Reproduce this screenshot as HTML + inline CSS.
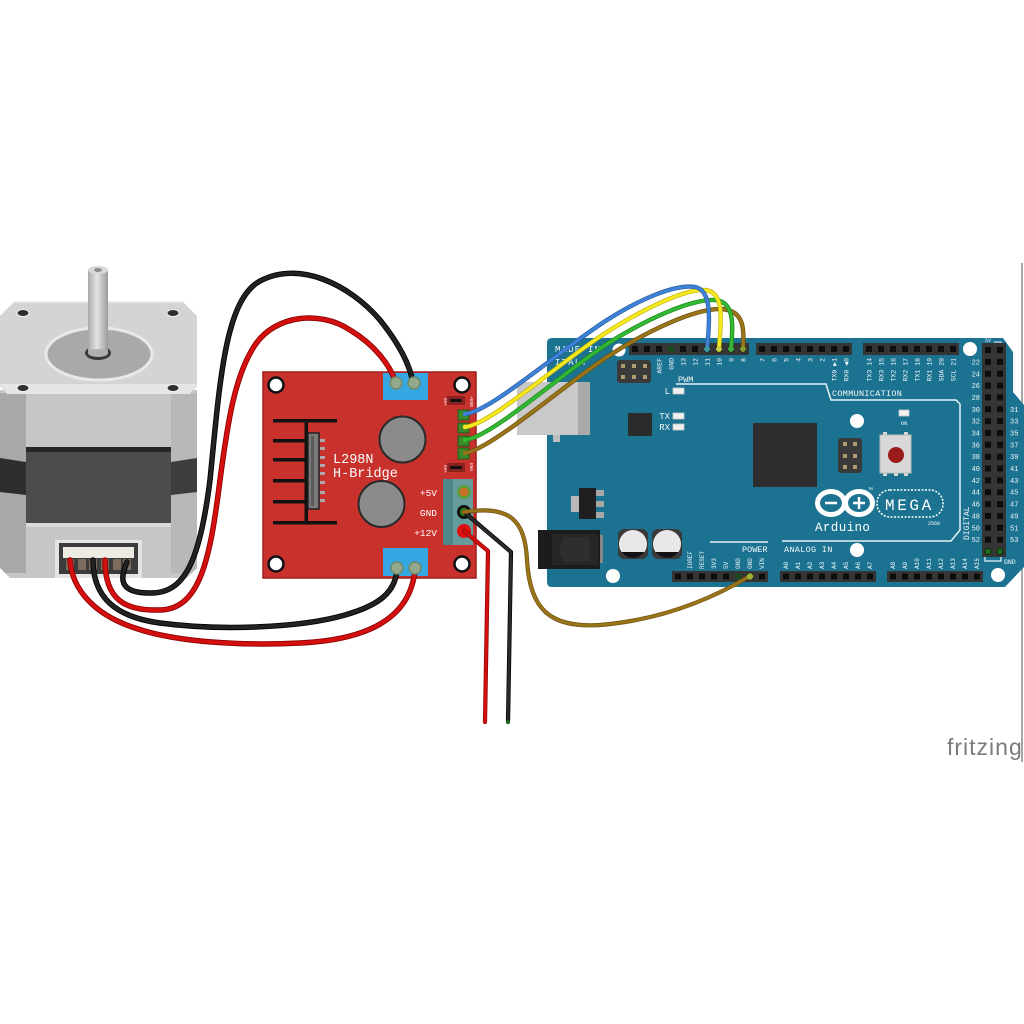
<!DOCTYPE html>
<html><head><meta charset="utf-8"><style>
html,body{margin:0;padding:0;background:#fff;}
svg{display:block;}
text{font-family:"Liberation Mono","DejaVu Sans Mono",monospace;}
</style></head><body>
<svg width="1024" height="1024" viewBox="0 0 1024 1024" xmlns="http://www.w3.org/2000/svg">
<defs>
<linearGradient id="shaft" x1="0" x2="1" y1="0" y2="0">
<stop offset="0" stop-color="#a9a9a9"/><stop offset="0.45" stop-color="#e4e4e4"/><stop offset="1" stop-color="#9a9a9a"/>
</linearGradient>
</defs>
<rect width="1024" height="1024" fill="#fff"/>
<line x1="1022" y1="263" x2="1022" y2="762" stroke="#8a8a8a" stroke-width="1.5"/>
<text x="947" y="755" font-family="Liberation Sans, sans-serif" font-size="23" letter-spacing="1" fill="#7b7b7b" style="font-family:'Liberation Sans',sans-serif">fritzing</text>

<!-- ================= STEPPER MOTOR ================= -->
<g>
<rect x="0" y="390" width="197" height="188" fill="#c6c6c6"/>
<rect x="0" y="393" width="26" height="180" fill="#a8a8a8"/>
<rect x="171" y="393" width="26" height="180" fill="#b8b8b8"/>
<polygon points="0,458 26,462 26,495 0,492" fill="#2e2e2e"/>
<polygon points="171,462 197,458 197,492 171,495" fill="#3d3d3d"/>
<rect x="26" y="447" width="145" height="76" fill="#4c4c4c"/>
<rect x="26" y="447" width="145" height="5" fill="#262626"/>
<rect x="26" y="523" width="145" height="4" fill="#dadada"/>
<polygon points="0,568 0,579 11,579" fill="#fff"/>
<polygon points="197,568 197,579 186,579" fill="#fff"/>
<polygon points="15,301 182,301 197,316 197,386 190,393 7,393 0,386 0,316" fill="#d4d4d4"/>
<polygon points="0,384 197,384 190,394 7,394" fill="#e6e6e6"/>
<line x1="15" y1="302" x2="182" y2="302" stroke="#e9e9e9" stroke-width="2"/>
<ellipse cx="23" cy="313" rx="6" ry="3.5" fill="#2e2e2e" stroke="#eee" stroke-width="1"/>
<ellipse cx="173" cy="313" rx="6" ry="3.5" fill="#2e2e2e" stroke="#eee" stroke-width="1"/>
<ellipse cx="23" cy="388" rx="6" ry="3.5" fill="#2e2e2e" stroke="#eee" stroke-width="1"/>
<ellipse cx="173" cy="388" rx="6" ry="3.5" fill="#2e2e2e" stroke="#eee" stroke-width="1"/>
<ellipse cx="99" cy="354" rx="53" ry="26" fill="#a9a9a9" stroke="#e8e8e8" stroke-width="3"/>
<ellipse cx="98" cy="353" rx="13" ry="7" fill="#3a3a3a"/>
<rect x="88" y="270" width="20" height="83" fill="url(#shaft)"/>
<ellipse cx="98" cy="353" rx="10" ry="4" fill="#b0b0b0"/>
<ellipse cx="98" cy="270" rx="10" ry="4" fill="#d9d9d9"/>
<ellipse cx="98" cy="270" rx="4" ry="2" fill="#8f8f8f"/>
<rect x="55" y="540" width="87" height="38" fill="#e4e4e4"/>
<rect x="59" y="543" width="79" height="31" fill="#3c3c3c"/>
<rect x="63" y="547" width="71" height="11" fill="#eeebe3"/>
<rect x="66" y="559" width="8" height="11" fill="#7d6b5e"/>
<rect x="78" y="559" width="8" height="11" fill="#7d6b5e"/>
<rect x="89" y="559" width="8" height="11" fill="#7d6b5e"/>
<rect x="101" y="559" width="8" height="11" fill="#7d6b5e"/>
<rect x="113" y="559" width="8" height="11" fill="#7d6b5e"/>
<rect x="123" y="559" width="8" height="11" fill="#7d6b5e"/>
</g>

<!-- ================= ARDUINO MEGA ================= -->
<g>
<path d="M552,338 L1003,338 L1013,352 L1013,392 L1024,405 L1024,567 L1005,587 L552,587 Q547,587 547,582 L547,343 Q547,338 552,338 Z" fill="#1b7391"/>
<path d="M676,384 H826 L831,400 H956 L960,404 V530 L951,541 H782" fill="none" stroke="#e8f2f5" stroke-width="1.5"/>
<line x1="710" y1="542" x2="768" y2="542" stroke="#e8f2f5" stroke-width="1.5"/>
<path d="M985,557 V561 H1001 V557" fill="none" stroke="#e8f2f5" stroke-width="1.2"/>
<path d="M994,342 H1001 V344" fill="none" stroke="#e8f2f5" stroke-width="1"/>
<circle cx="619" cy="350" r="6.5" fill="#fff"/>
<circle cx="970" cy="349" r="7" fill="#fff"/>
<circle cx="857" cy="421" r="7" fill="#fff"/>
<circle cx="857" cy="550" r="7" fill="#fff"/>
<circle cx="613" cy="576" r="7" fill="#fff"/>
<circle cx="998" cy="575" r="7" fill="#fff"/>
<g fill="#f2f7f9">
<text x="555" y="352" font-size="9" letter-spacing="1.2">MADE IN</text>
<text x="555" y="365" font-size="9" letter-spacing="1.2">ITALY</text>
<text x="678" y="382" font-size="8.5">PWM</text>
<text x="832" y="396" font-size="8.5" letter-spacing="0.3">COMMUNICATION</text>
<text x="742" y="552" font-size="8.5">POWER</text>
<text x="784" y="552" font-size="8.5" letter-spacing="0.3">ANALOG IN</text>
<text x="670" y="394" font-size="9" text-anchor="end">L</text>
<text x="670" y="419" font-size="9" text-anchor="end">TX</text>
<text x="670" y="430" font-size="9" text-anchor="end">RX</text>
<text x="904" y="425" font-size="5.5" text-anchor="middle">ON</text>
<text x="985" y="342" font-size="5">5V</text>
<text x="1004" y="564" font-size="6.5">GND</text>
<text transform="translate(969,540) rotate(-90)" font-size="8">DIGITAL</text>
</g>
<g fill="#f2f7f9" font-size="7" text-anchor="end">
<text x="980" y="364.5">22</text><text x="980" y="376.3">24</text><text x="980" y="388.1">26</text><text x="980" y="400">28</text>
<text x="980" y="411.8">30</text><text x="980" y="423.6">32</text><text x="980" y="435.5">34</text><text x="980" y="447.3">36</text>
<text x="980" y="459.2">38</text><text x="980" y="471">40</text><text x="980" y="482.9">42</text><text x="980" y="494.7">44</text>
<text x="980" y="506.6">46</text><text x="980" y="518.4">48</text><text x="980" y="530.3">50</text><text x="980" y="542.1">52</text>
</g>
<g fill="#f2f7f9" font-size="7">
<text x="1010" y="411.8">31</text><text x="1010" y="423.6">33</text><text x="1010" y="435.5">35</text><text x="1010" y="447.3">37</text>
<text x="1010" y="459.2">39</text><text x="1010" y="471">41</text><text x="1010" y="482.9">43</text><text x="1010" y="494.7">45</text>
<text x="1010" y="506.6">47</text><text x="1010" y="518.4">49</text><text x="1010" y="530.3">51</text><text x="1010" y="542.1">53</text>
</g>
<g fill="#f2f7f9" font-size="6.5" text-anchor="end">
<text transform="translate(661.5,358) rotate(-90)">AREF</text>
<text transform="translate(673.5,358) rotate(-90)">GND</text>
<text transform="translate(685.5,358) rotate(-90)">13</text>
<text transform="translate(697.5,358) rotate(-90)">12</text>
<text transform="translate(709.5,358) rotate(-90)">11</text>
<text transform="translate(721.5,358) rotate(-90)">10</text>
<text transform="translate(733.5,358) rotate(-90)">9</text>
<text transform="translate(745.5,358) rotate(-90)">8</text>
<text transform="translate(764.5,358) rotate(-90)">7</text>
<text transform="translate(776.5,358) rotate(-90)">6</text>
<text transform="translate(788.5,358) rotate(-90)">5</text>
<text transform="translate(800.5,358) rotate(-90)">4</text>
<text transform="translate(812.5,358) rotate(-90)">3</text>
<text transform="translate(824.5,358) rotate(-90)">2</text>
<text transform="translate(836.5,358) rotate(-90)">TX0 ▶1</text>
<text transform="translate(848.5,358) rotate(-90)">RX0 ◀0</text>
<text transform="translate(871.5,358) rotate(-90)">TX3 14</text>
<text transform="translate(883.5,358) rotate(-90)">RX3 15</text>
<text transform="translate(895.5,358) rotate(-90)">TX2 16</text>
<text transform="translate(907.5,358) rotate(-90)">RX2 17</text>
<text transform="translate(919.5,358) rotate(-90)">TX1 18</text>
<text transform="translate(931.5,358) rotate(-90)">RX1 19</text>
<text transform="translate(943.5,358) rotate(-90)">SDA 20</text>
<text transform="translate(955.5,358) rotate(-90)">SCL 21</text>
</g>
<g fill="#f2f7f9" font-size="6">
<text transform="translate(692.2,569) rotate(-90)">IOREF</text>
<text transform="translate(704.2,569) rotate(-90)">RESET</text>
<text transform="translate(716.2,569) rotate(-90)">3V3</text>
<text transform="translate(728.2,569) rotate(-90)">5V</text>
<text transform="translate(740.2,569) rotate(-90)">GND</text>
<text transform="translate(752.2,569) rotate(-90)">GND</text>
<text transform="translate(764.2,569) rotate(-90)">VIN</text>
<text transform="translate(788.2,569) rotate(-90)">A0</text>
<text transform="translate(800.2,569) rotate(-90)">A1</text>
<text transform="translate(812.2,569) rotate(-90)">A2</text>
<text transform="translate(824.2,569) rotate(-90)">A3</text>
<text transform="translate(836.2,569) rotate(-90)">A4</text>
<text transform="translate(848.2,569) rotate(-90)">A5</text>
<text transform="translate(860.2,569) rotate(-90)">A6</text>
<text transform="translate(872.2,569) rotate(-90)">A7</text>
<text transform="translate(895.2,569) rotate(-90)">A8</text>
<text transform="translate(907.2,569) rotate(-90)">A9</text>
<text transform="translate(919.2,569) rotate(-90)">A10</text>
<text transform="translate(931.2,569) rotate(-90)">A11</text>
<text transform="translate(943.2,569) rotate(-90)">A12</text>
<text transform="translate(955.2,569) rotate(-90)">A13</text>
<text transform="translate(967.2,569) rotate(-90)">A14</text>
<text transform="translate(979.2,569) rotate(-90)">A15</text>
</g>
<g>
<rect x="629" y="343" width="120" height="12" fill="#353535"/>
<rect x="756" y="343" width="96" height="12" fill="#353535"/>
<rect x="863" y="343" width="96" height="12" fill="#353535"/>
<rect x="672" y="571" width="96" height="11" fill="#353535"/>
<rect x="780" y="571" width="96" height="11" fill="#353535"/>
<rect x="887" y="571" width="96" height="11" fill="#353535"/>
<rect x="982" y="343" width="24" height="214" fill="#353535"/>
</g>
<g fill="#0d0d0d">
<rect x="632" y="346" width="6" height="6"/><rect x="644" y="346" width="6" height="6"/><rect x="656" y="346" width="6" height="6"/><rect x="668" y="346" width="6" height="6" fill="#1d4a1d"/><rect x="680" y="346" width="6" height="6"/><rect x="692" y="346" width="6" height="6"/><rect x="704" y="346" width="6" height="6"/><rect x="716" y="346" width="6" height="6"/><rect x="728" y="346" width="6" height="6"/><rect x="740" y="346" width="6" height="6"/>
<rect x="759" y="346" width="6" height="6"/><rect x="771" y="346" width="6" height="6"/><rect x="783" y="346" width="6" height="6"/><rect x="795" y="346" width="6" height="6"/><rect x="807" y="346" width="6" height="6"/><rect x="819" y="346" width="6" height="6"/><rect x="831" y="346" width="6" height="6"/><rect x="843" y="346" width="6" height="6"/>
<rect x="866" y="346" width="6" height="6"/><rect x="878" y="346" width="6" height="6"/><rect x="890" y="346" width="6" height="6"/><rect x="902" y="346" width="6" height="6"/><rect x="914" y="346" width="6" height="6"/><rect x="926" y="346" width="6" height="6"/><rect x="938" y="346" width="6" height="6"/><rect x="950" y="346" width="6" height="6"/>
<rect x="675" y="573.5" width="6" height="6"/><rect x="687" y="573.5" width="6" height="6"/><rect x="699" y="573.5" width="6" height="6"/><rect x="711" y="573.5" width="6" height="6"/><rect x="723" y="573.5" width="6" height="6"/><rect x="735" y="573.5" width="6" height="6" fill="#1d4a1d"/><rect x="747" y="573.5" width="6" height="6"/><rect x="759" y="573.5" width="6" height="6"/>
<rect x="783" y="573.5" width="6" height="6"/><rect x="795" y="573.5" width="6" height="6"/><rect x="807" y="573.5" width="6" height="6"/><rect x="819" y="573.5" width="6" height="6"/><rect x="831" y="573.5" width="6" height="6"/><rect x="843" y="573.5" width="6" height="6"/><rect x="855" y="573.5" width="6" height="6"/><rect x="867" y="573.5" width="6" height="6"/>
<rect x="890" y="573.5" width="6" height="6"/><rect x="902" y="573.5" width="6" height="6"/><rect x="914" y="573.5" width="6" height="6"/><rect x="926" y="573.5" width="6" height="6"/><rect x="938" y="573.5" width="6" height="6"/><rect x="950" y="573.5" width="6" height="6"/><rect x="962" y="573.5" width="6" height="6"/><rect x="974" y="573.5" width="6" height="6"/>
</g>
<g fill="#0d0d0d">
<rect x="985" y="347" width="6" height="6"/><rect x="997" y="347" width="6" height="6"/>
<rect x="985" y="358.9" width="6" height="6"/><rect x="997" y="358.9" width="6" height="6"/>
<rect x="985" y="370.7" width="6" height="6"/><rect x="997" y="370.7" width="6" height="6"/>
<rect x="985" y="382.6" width="6" height="6"/><rect x="997" y="382.6" width="6" height="6"/>
<rect x="985" y="394.4" width="6" height="6"/><rect x="997" y="394.4" width="6" height="6"/>
<rect x="985" y="406.3" width="6" height="6"/><rect x="997" y="406.3" width="6" height="6"/>
<rect x="985" y="418.1" width="6" height="6"/><rect x="997" y="418.1" width="6" height="6"/>
<rect x="985" y="430" width="6" height="6"/><rect x="997" y="430" width="6" height="6"/>
<rect x="985" y="441.8" width="6" height="6"/><rect x="997" y="441.8" width="6" height="6"/>
<rect x="985" y="453.7" width="6" height="6"/><rect x="997" y="453.7" width="6" height="6"/>
<rect x="985" y="465.5" width="6" height="6"/><rect x="997" y="465.5" width="6" height="6"/>
<rect x="985" y="477.4" width="6" height="6"/><rect x="997" y="477.4" width="6" height="6"/>
<rect x="985" y="489.2" width="6" height="6"/><rect x="997" y="489.2" width="6" height="6"/>
<rect x="985" y="501.1" width="6" height="6"/><rect x="997" y="501.1" width="6" height="6"/>
<rect x="985" y="512.9" width="6" height="6"/><rect x="997" y="512.9" width="6" height="6"/>
<rect x="985" y="524.8" width="6" height="6"/><rect x="997" y="524.8" width="6" height="6"/>
<rect x="985" y="536.6" width="6" height="6"/><rect x="997" y="536.6" width="6" height="6"/>
<circle cx="988" cy="551.5" r="3.2" fill="#1f6b1f" stroke="#0d2d0d" stroke-width="1"/><circle cx="1000" cy="551.5" r="3.2" fill="#1f6b1f" stroke="#0d2d0d" stroke-width="1"/>
</g>
<rect x="617" y="360" width="34" height="23" rx="3" fill="#3a3a3a"/>
<g fill="#b09a70">
<rect x="621" y="364" width="4" height="4"/><rect x="632" y="364" width="4" height="4"/><rect x="643" y="364" width="4" height="4"/>
<rect x="621" y="375" width="4" height="4"/><rect x="632" y="375" width="4" height="4"/><rect x="643" y="375" width="4" height="4"/>
</g>
<rect x="628" y="413" width="24" height="23" fill="#2b2b2b"/>
<rect x="673" y="388" width="11" height="6" fill="#f0f0f0" stroke="#c8c8c8" stroke-width="0.8"/>
<rect x="673" y="413" width="11" height="6" fill="#f0f0f0" stroke="#c8c8c8" stroke-width="0.8"/>
<rect x="673" y="424" width="11" height="6" fill="#f0f0f0" stroke="#c8c8c8" stroke-width="0.8"/>
<rect x="899" y="410" width="10" height="6" fill="#f0f0f0" stroke="#c8c8c8" stroke-width="0.8"/>
<rect x="753" y="423" width="64" height="64" fill="#2d2d2d"/>
<rect x="838" y="438" width="24" height="35" rx="3" fill="#3a3a3a"/>
<g fill="#b09a70">
<rect x="843" y="442" width="4" height="4"/><rect x="853" y="442" width="4" height="4"/>
<rect x="843" y="454" width="4" height="4"/><rect x="853" y="454" width="4" height="4"/>
<rect x="843" y="465" width="4" height="4"/><rect x="853" y="465" width="4" height="4"/>
</g>
<g fill="#d8d8d8">
<rect x="883" y="432" width="4" height="4"/><rect x="904" y="432" width="4" height="4"/>
<rect x="883" y="472" width="4" height="4"/><rect x="894" y="472" width="4" height="4"/><rect x="904" y="472" width="4" height="4"/>
</g>
<rect x="880" y="435" width="31" height="38" fill="#d8d8d8" stroke="#bcbcbc" stroke-width="1"/>
<circle cx="896" cy="455" r="8" fill="#9b1c1c"/>
<g fill="none" stroke="#fff" stroke-width="5">
<ellipse cx="831" cy="503" rx="13.5" ry="11.5"/>
<ellipse cx="859" cy="503" rx="13.5" ry="11.5"/>
</g>
<g stroke="#fff" stroke-width="2.5">
<line x1="825" y1="503" x2="837" y2="503"/>
<line x1="853" y1="503" x2="865" y2="503"/>
<line x1="859" y1="497" x2="859" y2="509"/>
</g>
<rect x="877" y="490" width="66" height="27" rx="13" fill="none" stroke="#fff" stroke-width="1.5" stroke-dasharray="2,1.5"/>
<text x="885" y="510" font-size="16" letter-spacing="2.6" fill="#fff">MEGA</text>
<text x="815" y="531" font-size="12.5" letter-spacing="0.4" fill="#fff">Arduino</text>
<text x="868" y="490" font-size="4" fill="#fff">TM</text>
<text x="928" y="525" font-size="5" fill="#fff">2560</text>
<rect x="571" y="496" width="9" height="16" fill="#b8b8b8"/>
<rect x="596" y="490" width="8" height="6" fill="#a8a8a8"/>
<rect x="596" y="501" width="8" height="6" fill="#a8a8a8"/>
<rect x="596" y="512" width="8" height="6" fill="#a8a8a8"/>
<rect x="579" y="488" width="17" height="31" fill="#1f1f1f"/>
<rect x="598" y="535" width="5" height="28" fill="#888"/>
<rect x="538" y="530" width="62" height="39" fill="#1c1c1c"/>
<rect x="552" y="534" width="46" height="31" fill="#262626"/>
<path d="M565,537 H590 V562 H565 Q555,549 565,537 Z" fill="#2e2e2e"/>
<path d="M622,529 H644 L648,533 V555 L644,559 H622 L618,555 V533 Z" fill="#3a3a3a"/>
<circle cx="633" cy="544" r="14" fill="#e8e8e8"/>
<path d="M621.5,552 A14,14 0 0 0 644.5,552 Z" fill="#111"/>
<path d="M656,529 H678 L682,533 V555 L678,559 H656 L652,555 V533 Z" fill="#3a3a3a"/>
<circle cx="667" cy="544" r="14" fill="#e8e8e8"/>
<path d="M655.5,552 A14,14 0 0 0 678.5,552 Z" fill="#111"/>
<rect x="517" y="382" width="73" height="53" fill="#c9c9c9"/>
<rect x="578" y="382" width="12" height="53" fill="#a9a9a9"/>
<rect x="553" y="435" width="7" height="7" fill="#bdbdbd"/>
</g>

<!-- ================= L298N ================= -->
<g>
<rect x="263" y="372" width="213" height="206" fill="#c9312d" stroke="#a01f1f" stroke-width="1.5"/>
<circle cx="276" cy="385" r="7.5" fill="#fff" stroke="#111" stroke-width="2.5"/>
<circle cx="462" cy="385" r="7.5" fill="#fff" stroke="#111" stroke-width="2.5"/>
<circle cx="276" cy="564" r="7.5" fill="#fff" stroke="#111" stroke-width="2.5"/>
<circle cx="462" cy="564" r="7.5" fill="#fff" stroke="#111" stroke-width="2.5"/>
<rect x="383" y="373" width="45" height="27" fill="#35a7e3"/>
<rect x="383" y="548" width="45" height="28" fill="#35a7e3"/>
<g fill="#111">
<rect x="273" y="419" width="64" height="3.5"/>
<rect x="273" y="521" width="64" height="3.5"/>
<rect x="273" y="439" width="34" height="3.5"/>
<rect x="273" y="458" width="34" height="3.5"/>
<rect x="273" y="479" width="34" height="3.5"/>
<rect x="273" y="500" width="34" height="3.5"/>
<rect x="304.5" y="419" width="3.5" height="105"/>
</g>
<rect x="308" y="433" width="11" height="76" fill="#7a7a7a" stroke="#222" stroke-width="1.5"/>
<rect x="311" y="436" width="3" height="70" fill="#5a5a5a"/>
<g fill="#aaa">
<rect x="320" y="439" width="5" height="3"/><rect x="320" y="447" width="5" height="3"/><rect x="320" y="456" width="5" height="3"/><rect x="320" y="464" width="5" height="3"/>
<rect x="320" y="472" width="5" height="3"/><rect x="320" y="481" width="5" height="3"/><rect x="320" y="491" width="5" height="3"/><rect x="320" y="499" width="5" height="3"/>
</g>
<text x="333" y="463" font-size="13.5" fill="#fff">L298N</text>
<text x="333" y="477" font-size="13.5" fill="#fff">H-Bridge</text>
<circle cx="402.5" cy="439.5" r="23" fill="#8b8b8b" stroke="#2a2a2a" stroke-width="2"/>
<circle cx="381.5" cy="504" r="23" fill="#8b8b8b" stroke="#2a2a2a" stroke-width="2"/>
<rect x="447" y="396" width="18" height="9" fill="#8a2020"/>
<rect x="450" y="399" width="12" height="3" rx="1.5" fill="#111"/>
<rect x="447" y="463" width="18" height="9" fill="#8a2020"/>
<rect x="450" y="466" width="12" height="3" rx="1.5" fill="#111"/>
<g fill="#fff" font-size="4.5">
<text transform="translate(444,398) rotate(90)">5V+</text>
<text transform="translate(444,465) rotate(90)">5V+</text>
<text transform="translate(470,396) rotate(90)">+ENB</text>
<text transform="translate(470,463) rotate(90)">ENA</text>
</g>
<g fill="#3a8a2a" stroke="#1e5a16" stroke-width="1">
<rect x="458" y="410" width="11" height="10"/>
<rect x="458" y="423" width="11" height="10"/>
<rect x="458" y="436" width="11" height="10"/>
<rect x="458" y="448" width="11" height="11"/>
</g>
<rect x="443" y="479" width="30" height="66" fill="#659c9c"/>
<rect x="443" y="479" width="10" height="66" fill="#4d8789"/>
<circle cx="464" cy="492" r="7" fill="#5aa040"/>
<circle cx="464" cy="492" r="4.5" fill="#c8702a"/>
<circle cx="464" cy="512" r="7" fill="#111"/>
<circle cx="464" cy="512" r="4" fill="#3d8a1e"/>
<circle cx="464" cy="531" r="7" fill="#e01010"/>
<g fill="#fff" font-size="9.5" text-anchor="end">
<text x="437" y="496">+5V</text>
<text x="437" y="516">GND</text>
<text x="437" y="536">+12V</text>
</g>
</g>

<!-- ================= WIRES ================= -->
<g fill="none" stroke-linecap="round" stroke-linejoin="round">
<path d="M70,560 C72,590 95,615 135,628 C175,642 240,646 300,643 C365,640 410,620 415,570" stroke="#8a0000" stroke-width="5.5"/>
<path d="M70,560 C72,590 95,615 135,628 C175,642 240,646 300,643 C365,640 410,620 415,570" stroke="#d40f0f" stroke-width="3.8"/>
<path d="M93,560 C93,597 115,617 160,623 C220,631 300,628 345,615 C380,605 395,592 397,570" stroke="#000" stroke-width="5.5"/>
<path d="M93,560 C93,597 115,617 160,623 C220,631 300,628 345,615 C380,605 395,592 397,570" stroke="#222" stroke-width="3.8"/>
<path d="M105,560 C105,600 125,611 160,610 C200,609 210,560 220,480 C228,420 235,375 255,345 C275,315 320,310 350,330 C375,345 390,365 396,383" stroke="#8a0000" stroke-width="5.5"/>
<path d="M105,560 C105,600 125,611 160,610 C200,609 210,560 220,480 C228,420 235,375 255,345 C275,315 320,310 350,330 C375,345 390,365 396,383" stroke="#d40f0f" stroke-width="3.8"/>
<path d="M127,562 C120,578 118,593 150,593 C185,594 200,560 210,480 C220,380 225,300 260,281 C300,260 350,285 380,320 C400,345 410,365 413,383" stroke="#000" stroke-width="5.5"/>
<path d="M127,562 C120,578 118,593 150,593 C185,594 200,560 210,480 C220,380 225,300 260,281 C300,260 350,285 380,320 C400,345 410,365 413,383" stroke="#222" stroke-width="3.8"/>
</g>
<g fill="#93a88c" stroke="#6d8a6a" stroke-width="1.5">
<circle cx="396" cy="383" r="6"/><circle cx="414" cy="383" r="6"/>
<circle cx="397" cy="568" r="6"/><circle cx="415" cy="568" r="6"/>
</g>
<g fill="none" stroke-linecap="round" stroke-linejoin="round">
<path d="M464,531 L488,551 L485,722" stroke="#8a0000" stroke-width="4.2"/>
<path d="M464,531 L488,551 L485,722" stroke="#d40f0f" stroke-width="2.8"/>
<path d="M464,512 L511,552 L508,722" stroke="#000" stroke-width="4.2"/>
<path d="M464,512 L511,552 L508,722" stroke="#2a2a2a" stroke-width="2.8"/>
<path d="M464,512 C510,505 525,520 527,560 C530,610 550,628 600,625 C660,620 710,600 750,576" stroke="#6e5010" stroke-width="4.2"/>
<path d="M464,512 C510,505 525,520 527,560 C530,610 550,628 600,625 C660,620 710,600 750,576" stroke="#9a7418" stroke-width="2.8"/>
<path d="M465,453 C490,450 560,388 607,357 C645,332 695,308 722,309 C745,311 744,330 743,349" stroke="#6e5010" stroke-width="4.4"/>
<path d="M465,453 C490,450 560,388 607,357 C645,332 695,308 722,309 C745,311 744,330 743,349" stroke="#9a7418" stroke-width="3"/>
<path d="M465,440 C490,438 560,375 607,344 C645,320 690,299 715,300 C735,302 733,325 731,349" stroke="#1f8a1f" stroke-width="4.4"/>
<path d="M465,440 C490,438 560,375 607,344 C645,320 690,299 715,300 C735,302 733,325 731,349" stroke="#33b833" stroke-width="3"/>
<path d="M465,427 C490,425 560,362 607,332 C645,308 685,289 705,290 C725,292 721,320 719,349" stroke="#c4b40e" stroke-width="4.4"/>
<path d="M465,427 C490,425 560,362 607,332 C645,308 685,289 705,290 C725,292 721,320 719,349" stroke="#f6e81e" stroke-width="3"/>
<path d="M465,414 C490,412 560,350 607,320 C640,299 675,284 695,287 C712,290 710,320 707,349" stroke="#2a5f9e" stroke-width="4.4"/>
<path d="M465,414 C490,412 560,350 607,320 C640,299 675,284 695,287 C712,290 710,320 707,349" stroke="#3d82d8" stroke-width="3"/>
</g>
<circle cx="707" cy="349" r="3" fill="#3a9aa0"/>
<circle cx="719" cy="349" r="3" fill="#c8d040"/>
<circle cx="731" cy="349" r="3" fill="#3fb03f"/>
<circle cx="743" cy="349" r="3" fill="#8a9a30"/>
<circle cx="750" cy="576.5" r="3.2" fill="#9ab030"/>
<circle cx="465" cy="414" r="2.2" fill="#3d82d8"/>
<circle cx="465" cy="427" r="2.2" fill="#f6e81e"/>
<circle cx="465" cy="440" r="2.2" fill="#33b833"/>
<circle cx="465" cy="453" r="2.2" fill="#9a7418"/>
<circle cx="485" cy="722" r="2" fill="#c01010"/>
<circle cx="508" cy="722" r="2" fill="#1d6b1d"/>
</svg>
</body></html>
